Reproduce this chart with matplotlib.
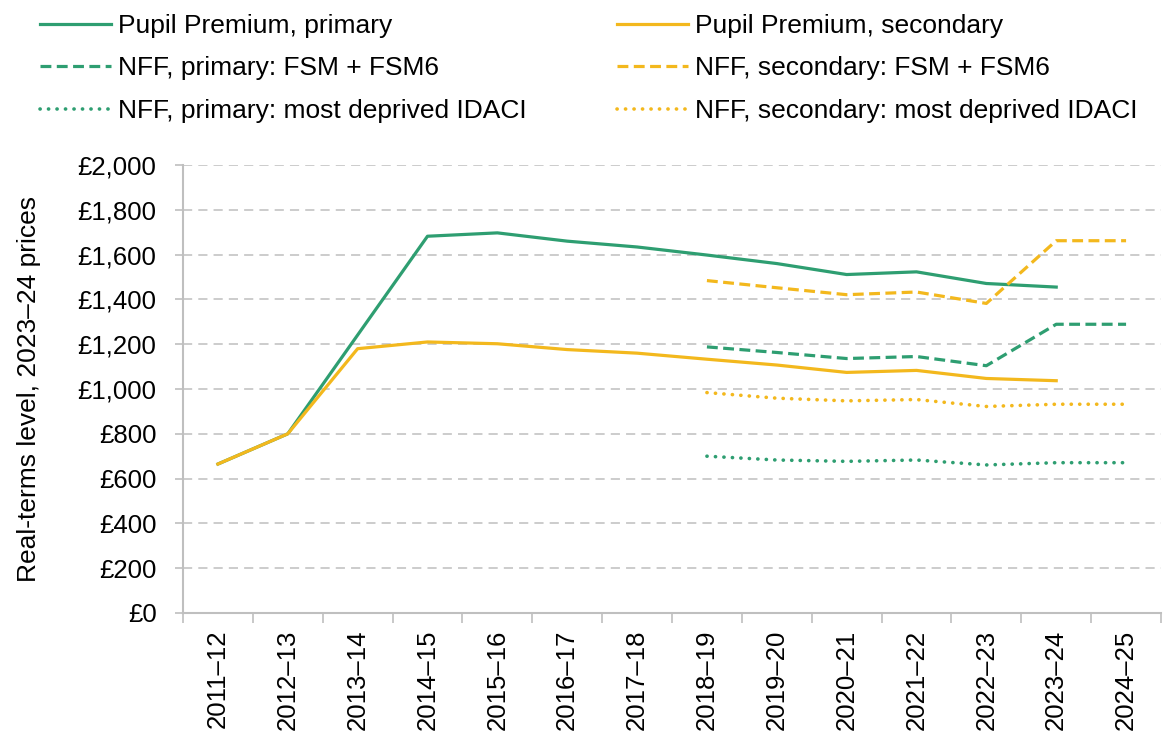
import numpy as np
import matplotlib
matplotlib.use("Agg")
import matplotlib.pyplot as plt
from matplotlib.ticker import FuncFormatter, FixedLocator

plt.rcParams['font.family'] = ['Liberation Sans', 'DejaVu Sans']

years = ['2011–12', '2012–13', '2013–14', '2014–15', '2015–16', '2016–17', '2017–18',
         '2018–19', '2019–20', '2020–21', '2021–22', '2022–23', '2023–24', '2024–25']

# Pupil Premium (2011-12 to 2023-24)
pp_primary = [665, 800, 1241, 1682, 1697, 1660, 1634, 1598, 1560, 1511, 1523, 1471, 1455]
pp_secondary = [665, 800, 1180, 1210, 1202, 1176, 1160, 1133, 1107, 1074, 1083, 1047, 1037]

# NFF (2018-19 to 2024-25)
nff_primary_fsm = [1188, 1163, 1136, 1145, 1104, 1289, 1289]
nff_secondary_fsm = [1484, 1452, 1421, 1433, 1382, 1662, 1662]
nff_primary_idaci = [700, 683, 677, 683, 661, 671, 671]
nff_secondary_idaci = [984, 959, 947, 953, 922, 932, 932]

GREEN = '#2E9E71'
YELLOW = '#F3B81D'

x = np.arange(len(years))
x_pp = x[:len(pp_primary)]
x_nff = x[7:]

fig = plt.figure(figsize=(11.63, 7.31), dpi=100)
ax = fig.add_axes([183 / 1163, 118 / 731, 978 / 1163, 448 / 731])

lw = 2.3
dash = (3.4, 1.7)
dot_lw = 2.6
dot = (0.05, 2.3)

ax.plot(x_pp, pp_primary, color=GREEN, lw=lw, label='Pupil Premium, primary')
ax.plot(x_nff, nff_primary_fsm, color=GREEN, lw=lw, dashes=dash, label='NFF, primary: FSM + FSM6')
ax.plot(x_nff, nff_primary_idaci, color=GREEN, lw=dot_lw, dashes=dot, dash_capstyle='round',
        label='NFF, primary: most deprived IDACI')
ax.plot(x_pp, pp_secondary, color=YELLOW, lw=lw, label='Pupil Premium, secondary')
ax.plot(x_nff, nff_secondary_fsm, color=YELLOW, lw=lw, dashes=dash, label='NFF, secondary: FSM + FSM6')
ax.plot(x_nff, nff_secondary_idaci, color=YELLOW, lw=dot_lw, dashes=dot, dash_capstyle='round',
        label='NFF, secondary: most deprived IDACI')

ax.set_xlim(-0.5, len(years) - 0.5)
ax.set_ylim(0, 2000)
ax.set_yticks(np.arange(0, 2001, 200))
ax.yaxis.set_major_formatter(FuncFormatter(lambda v, p: '£{:,.0f}'.format(v)))

ax.set_xticks(x)
ax.set_xticklabels(years, rotation=90)
ax.xaxis.set_minor_locator(FixedLocator(np.arange(-0.5, len(years), 1.0)))
ax.tick_params(axis='x', which='major', length=0, pad=12, labelsize=18.5)
ax.tick_params(axis='x', which='minor', length=7, width=1.2, color='#BFBFBF')
ax.tick_params(axis='y', length=6, width=1.2, color='#BFBFBF', pad=13, labelsize=18.5)

ax.grid(axis='y', color='#BFBFBF', lw=1.1, dashes=(6, 4))
ax.set_axisbelow(True)
for s in ['top', 'right']:
    ax.spines[s].set_visible(False)
for s in ['left', 'bottom']:
    ax.spines[s].set_color('#BFBFBF')
    ax.spines[s].set_linewidth(1.5)

ax.set_ylabel('Real-terms level, 2023–24 prices', fontsize=19, labelpad=26)

fig.legend(loc='upper left', bbox_to_anchor=(40 / 1163, 1 - 14 / 731), ncol=2, frameon=False,
           fontsize=19, handlelength=2.7, handletextpad=0.27, columnspacing=3.4,
           labelspacing=0.7, borderpad=0, borderaxespad=0)

fig.savefig('out.png', dpi=100)
